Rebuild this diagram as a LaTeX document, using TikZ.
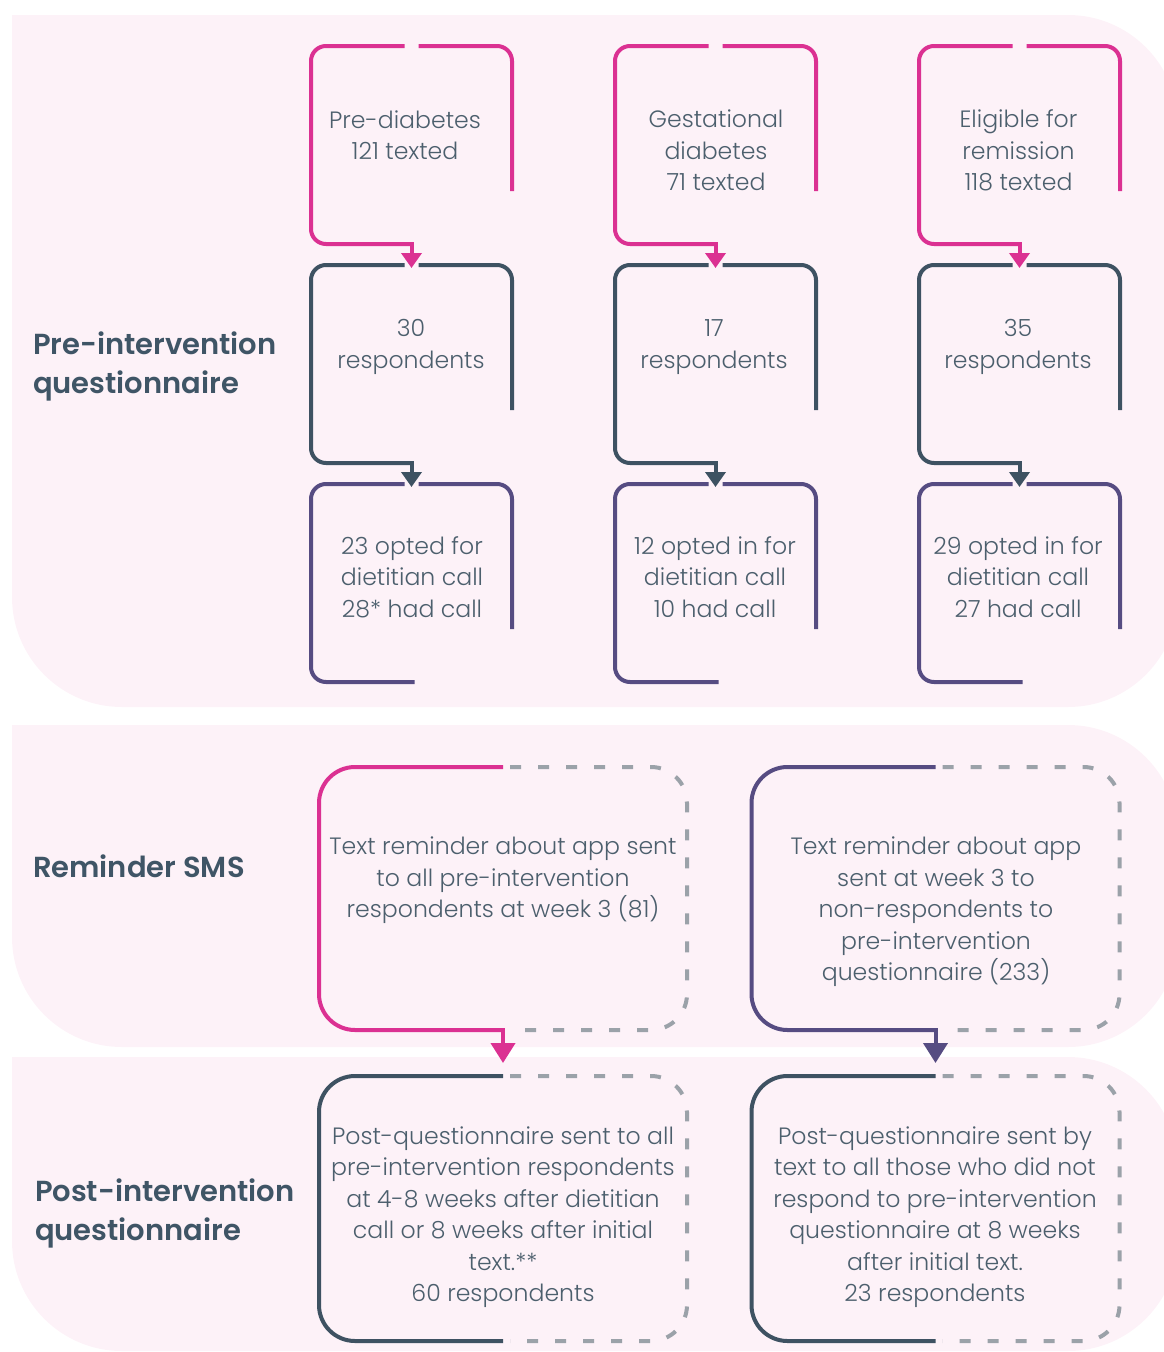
\documentclass[tikz,border=0pt]{standalone}
\usepackage{fontspec}
\IfFontExistsTF{Poppins Light}{\setmainfont{Poppins Light}}{\setmainfont{Poppins}}
\IfFontExistsTF{Poppins SemiBold}{\newfontfamily\headfont{Poppins SemiBold}}{\newfontfamily\headfont{Poppins}[FakeBold=1.5]}
\usepackage{tikz}
\usetikzlibrary{arrows.meta}

\definecolor{panelpink}{HTML}{FDF2F8}
\definecolor{rosepink}{HTML}{DB3192}
\definecolor{slate}{HTML}{3E5262}
\definecolor{grape}{HTML}{564C82}
\definecolor{dashgrey}{HTML}{9BA2A9}
\definecolor{inktext}{HTML}{4C5F6D}
\definecolor{headink}{HTML}{3F5566}

\begin{document}
\begin{tikzpicture}[x=1pt, y=-1pt, line width=4pt,
    cell/.style={rectangle, minimum width=197pt, minimum height=194pt, inner sep=0pt},
    slip/.style={rectangle, minimum width=364pt, minimum height=259pt, inner sep=0pt},
    txt/.style={align=center, inner sep=0pt, text=inktext, font=\fontsize{23.6}{31.5}\selectfont},
    head/.style={align=left, anchor=west, inner sep=0pt, text=headink, font=\headfont\fontsize{29}{39}\selectfont},
    tip/.style={-{Triangle[width=20pt,length=15pt]}, shorten >=-3pt},
    bigtip/.style={-{Triangle[width=24pt,length=20pt]}, shorten >=13pt},
    dash line/.style={dashgrey, dash pattern=on 11pt off 17pt}]
    \useasboundingbox (0,0) rectangle (1164,1352);

    % background bands
    \fill[panelpink, rounded corners=110pt] (12,15) -- (1178,15) -- (1178,707) -- (12,707) -- (12,15);
    \fill[panelpink, rounded corners=110pt] (12,725) -- (1178,725) -- (1178,1047) -- (12,1047) -- (12,725);
    \fill[panelpink, rounded corners=110pt] (12,1057) -- (1178,1057) -- (1178,1351) -- (12,1351) -- (12,1057);

    % side labels
    \node[head] (prelabel) at (31,366) {Pre-intervention\\questionnaire};
    \node[head] (smslabel) at (31,866) {Reminder SMS};
    \node[head] (postlabel) at (33,1213) {Post-intervention\\questionnaire};

    % pre-intervention frames
    \node[cell] (prediab) at (411.5,145) {};
    \node[cell] (gest) at (715.5,145) {};
    \node[cell] (remis) at (1019.5,145) {};
    \node[cell] (resp1) at (411.5,364) {};
    \node[cell] (resp2) at (715.5,364) {};
    \node[cell] (resp3) at (1019.5,364) {};
    \node[cell] (optin1) at (411.5,583) {};
    \node[cell] (optin2) at (715.5,583) {};
    \node[cell] (optin3) at (1019.5,583) {};

    \node[txt] (prediabtext) at (405,135) {Pre-diabetes\\121 texted};
    \node[txt] (gesttext) at (716,150.5) {Gestational\\diabetes\\71 texted};
    \node[txt] (remistext) at (1018.5,150.5) {Eligible for\\remission\\118 texted};
    \node[txt] (resp1text) at (411,347) {30\\respondents};
    \node[txt] (resp2text) at (714,347) {17\\respondents};
    \node[txt] (resp3text) at (1018,347) {35\\respondents};
    \node[txt] (optin1text) at (412,577) {23 opted for\\dietitian call\\28* had call};
    \node[txt] (optin2text) at (715,577) {12 opted in for\\dietitian call\\10 had call};
    \node[txt] (optin3text) at (1018,577) {29 opted in for\\dietitian call\\27 had call};

    \draw[rosepink, rounded corners=15pt] ([xshift=-7pt]prediab.north) -- (prediab.north west) -- (prediab.south west) -- (prediab.south);
    \draw[rosepink, rounded corners=15pt] ([xshift=7pt]prediab.north) -- (prediab.north east) -- ([yshift=-145pt]prediab.north east);
    \draw[rosepink, rounded corners=15pt] ([xshift=-7pt]gest.north) -- (gest.north west) -- (gest.south west) -- (gest.south);
    \draw[rosepink, rounded corners=15pt] ([xshift=7pt]gest.north) -- (gest.north east) -- ([yshift=-145pt]gest.north east);
    \draw[rosepink, rounded corners=15pt] ([xshift=-7pt]remis.north) -- (remis.north west) -- (remis.south west) -- (remis.south);
    \draw[rosepink, rounded corners=15pt] ([xshift=7pt]remis.north) -- (remis.north east) -- ([yshift=-145pt]remis.north east);

    \draw[slate, rounded corners=15pt] ([xshift=-7pt]resp1.north) -- (resp1.north west) -- (resp1.south west) -- (resp1.south);
    \draw[slate, rounded corners=15pt] ([xshift=7pt]resp1.north) -- (resp1.north east) -- ([yshift=-145pt]resp1.north east);
    \draw[slate, rounded corners=15pt] ([xshift=-7pt]resp2.north) -- (resp2.north west) -- (resp2.south west) -- (resp2.south);
    \draw[slate, rounded corners=15pt] ([xshift=7pt]resp2.north) -- (resp2.north east) -- ([yshift=-145pt]resp2.north east);
    \draw[slate, rounded corners=15pt] ([xshift=-7pt]resp3.north) -- (resp3.north west) -- (resp3.south west) -- (resp3.south);
    \draw[slate, rounded corners=15pt] ([xshift=7pt]resp3.north) -- (resp3.north east) -- ([yshift=-145pt]resp3.north east);

    \draw[grape, rounded corners=15pt] ([xshift=-7pt]optin1.north) -- (optin1.north west) -- (optin1.south west) -- ([xshift=3pt]optin1.south);
    \draw[grape, rounded corners=15pt] ([xshift=7pt]optin1.north) -- (optin1.north east) -- ([yshift=-145pt]optin1.north east);
    \draw[grape, rounded corners=15pt] ([xshift=-7pt]optin2.north) -- (optin2.north west) -- (optin2.south west) -- ([xshift=3pt]optin2.south);
    \draw[grape, rounded corners=15pt] ([xshift=7pt]optin2.north) -- (optin2.north east) -- ([yshift=-145pt]optin2.north east);
    \draw[grape, rounded corners=15pt] ([xshift=-7pt]optin3.north) -- (optin3.north west) -- (optin3.south west) -- ([xshift=3pt]optin3.south);
    \draw[grape, rounded corners=15pt] ([xshift=7pt]optin3.north) -- (optin3.north east) -- ([yshift=-145pt]optin3.north east);

    \draw[rosepink, tip] ([yshift=2pt]prediab.south) -- (resp1.north);
    \draw[rosepink, tip] ([yshift=2pt]gest.south) -- (resp2.north);
    \draw[rosepink, tip] ([yshift=2pt]remis.south) -- (resp3.north);
    \draw[slate, tip] ([yshift=2pt]resp1.south) -- (optin1.north);
    \draw[slate, tip] ([yshift=2pt]resp2.south) -- (optin2.north);
    \draw[slate, tip] ([yshift=2pt]resp3.south) -- (optin3.north);

    % reminder and post-intervention slips
    \node[slip] (remindA) at (503,898.5) {};
    \node[slip] (remindB) at (935.5,898.5) {};
    \node[slip, minimum height=261pt] (postA) at (503,1208.5) {};
    \node[slip, minimum height=261pt] (postB) at (935.5,1208.5) {};

    \node[txt] (remindAtext) at (503,880.5) {Text reminder about app sent\\to all pre-intervention\\respondents at week 3 (81)};
    \node[txt] (remindBtext) at (936,912) {Text reminder about app\\sent at week 3 to\\non-respondents to\\pre-intervention\\questionnaire (233)};
    \node[txt] (postAtext) at (503,1217) {Post-questionnaire sent to all\\pre-intervention respondents\\at 4-8 weeks after dietitian\\call or 8 weeks after initial\\text.**\\60 respondents};
    \node[txt] (postBtext) at (935,1217) {Post-questionnaire sent by\\text to all those who did not\\respond to pre-intervention\\questionnaire at 8 weeks\\after initial text.\\23 respondents};

    \draw[rosepink, rounded corners=36pt] (remindA.north) -- (remindA.north west) -- (remindA.south west) -- (remindA.south);
    \draw[dash line, rounded corners=36pt] ([xshift=7pt]remindA.north) -- (remindA.north east) -- (remindA.south east) -- ([xshift=7pt]remindA.south);
    \draw[grape, rounded corners=36pt] (remindB.north) -- (remindB.north west) -- (remindB.south west) -- (remindB.south);
    \draw[dash line, rounded corners=36pt] ([xshift=7pt]remindB.north) -- (remindB.north east) -- (remindB.south east) -- ([xshift=7pt]remindB.south);
    \draw[slate, rounded corners=36pt] (postA.north) -- (postA.north west) -- (postA.south west) -- (postA.south);
    \draw[dash line, rounded corners=36pt] ([xshift=7pt]postA.north) -- (postA.north east) -- (postA.south east) -- ([xshift=7pt]postA.south);
    \draw[slate, rounded corners=36pt] (postB.north) -- (postB.north west) -- (postB.south west) -- (postB.south);
    \draw[dash line, rounded corners=36pt] ([xshift=7pt]postB.north) -- (postB.north east) -- (postB.south east) -- ([xshift=7pt]postB.south);

    \draw[rosepink, bigtip] ([yshift=2pt]remindA.south) -- (postA.north);
    \draw[grape, bigtip] ([yshift=2pt]remindB.south) -- (postB.north);
  \end{tikzpicture}
\end{document}
